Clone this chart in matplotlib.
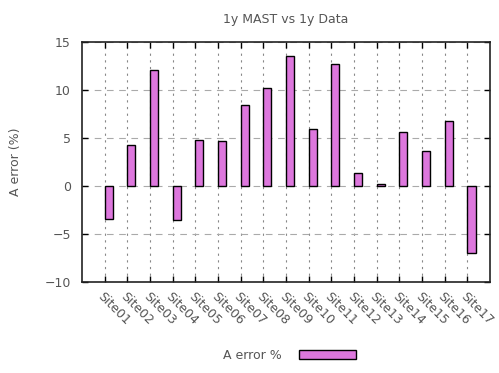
import matplotlib

matplotlib.use("Agg")
import matplotlib.pyplot as plt
import numpy as np


SITES = [f"Site{i:02d}" for i in range(1, 18)]
ERROR_PCT = [-3.4, 4.3, 12.1, -3.5, 4.8, 4.7, 8.5, 10.2, 13.6,
             5.9, 12.7, 1.4, 0.2, 5.6, 3.7, 6.8, -7.0]
Y_TICKS = [-10, -5, 0, 5, 10, 15]

TEXT_COLOR = "#555555"
BAR_COLOR = "#dd77dd"

plt.rcParams["font.family"] = ["DejaVu Sans"]
plt.rcParams["font.size"] = 9

fig = plt.figure(figsize=(4.99, 3.73), dpi=100)
ax = fig.add_axes([0.164, 0.244, 0.818, 0.643])

x = np.arange(1, len(SITES) + 1)
ax.bar(x, ERROR_PCT, width=0.36, align="edge", color=BAR_COLOR,
       edgecolor="black", linewidth=1.0, zorder=3, label="A error %")

ax.set_xlim(0, len(SITES) + 1)
ax.set_ylim(-10, 15)
ax.set_yticks(Y_TICKS)
ax.set_xticks(x)
ax.set_xticklabels(SITES, rotation=-45, ha="left", va="top",
                   rotation_mode="anchor", color=TEXT_COLOR)

for label in ax.get_yticklabels():
    label.set_color(TEXT_COLOR)

ax.tick_params(direction="in", top=True, right=True, length=4,
               width=1.0, pad=8)
ax.tick_params(axis="x", pad=6)

# vertical grid dotted, horizontal grid dashed, both behind the bars
ax.xaxis.grid(True, linestyle=(0, (2, 4)), color="#888888", linewidth=0.8, zorder=0)
ax.yaxis.grid(True, linestyle=(0, (6, 5)), color="#aaaaaa", linewidth=0.8, zorder=0)
ax.set_axisbelow(True)

for spine in ax.spines.values():
    spine.set_linewidth(1.2)
    spine.set_color("#222222")

ax.set_title("1y MAST vs 1y Data", color=TEXT_COLOR, fontsize=9, pad=14)
ax.set_ylabel("A error (%)", color=TEXT_COLOR, labelpad=16)

handles, labels = ax.get_legend_handles_labels()
leg = fig.legend(handles, labels, loc="center", bbox_to_anchor=(0.58, 0.048),
                 frameon=False, markerfirst=False, handlelength=4.6,
                 handleheight=0.7, handletextpad=1.4)
for text in leg.get_texts():
    text.set_color(TEXT_COLOR)

fig.savefig("out.png", dpi=100)
